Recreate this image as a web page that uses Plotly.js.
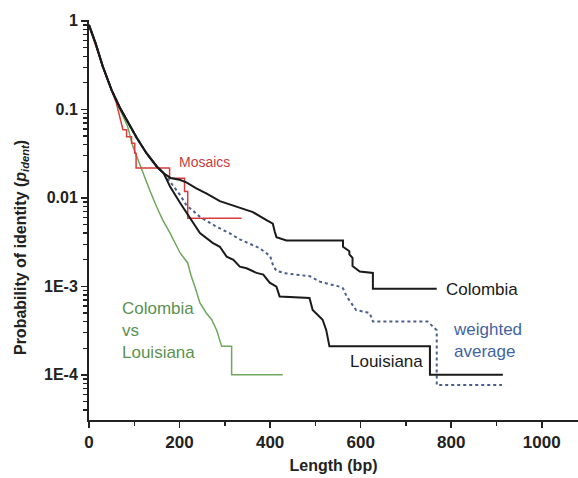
<!DOCTYPE html>
<html>
<head>
<meta charset="utf-8">
<script src="https://cdn.plot.ly/plotly-3.0.1.min.js"></script>
<style>html,body{margin:0;padding:0;background:#fff;}#chart{width:578px;height:478px;}</style>
</head>
<body>
<div id="chart"></div>
<script>
// Data (length in bp, probability of identity)
const colombiaX = [0, 15, 30, 50, 68, 85, 105, 127, 150, 165, 180, 200, 215, 237, 260, 289, 310, 333, 362, 392, 406, 410, 414, 436, 561, 561, 575, 575, 582, 582, 598, 627, 627, 768];
const colombiaY = [0.9, 0.55, 0.31, 0.165, 0.105, 0.072, 0.048, 0.032, 0.0225, 0.019, 0.0168, 0.016, 0.015, 0.0128, 0.0112, 0.0092, 0.0085, 0.0078, 0.0069, 0.0056, 0.0051, 0.0042, 0.0036, 0.0033, 0.0033, 0.0028, 0.0025, 0.0023, 0.0021, 0.0017, 0.00147, 0.00142, 0.00094, 0.00094];

const louisianaX = [0, 15, 30, 50, 68, 85, 105, 127, 150, 165, 179, 201, 215, 237, 245, 273, 289, 304, 319, 333, 348, 370, 385, 399, 414, 421, 487, 494, 516, 524, 531, 753, 753, 914];
const louisianaY = [0.9, 0.55, 0.31, 0.165, 0.105, 0.072, 0.048, 0.032, 0.0225, 0.019, 0.0134, 0.0088, 0.0068, 0.0047, 0.0040, 0.0031, 0.0028, 0.00217, 0.0020, 0.00167, 0.0016, 0.00142, 0.00136, 0.0011, 0.00099, 0.00077, 0.00074, 0.00054, 0.00042, 0.00032, 0.00021, 0.00021, 0.0001, 0.0001];

const weightedX = [0, 15, 30, 50, 68, 85, 105, 127, 150, 165, 179, 201, 215, 245, 282, 310, 333, 377, 400, 407, 414, 436, 488, 510, 554, 561, 569, 590, 620, 627, 748, 768, 768, 912];
const weightedY = [0.9, 0.55, 0.31, 0.165, 0.105, 0.072, 0.048, 0.032, 0.0225, 0.019, 0.0152, 0.0108, 0.0083, 0.0061, 0.0047, 0.0040, 0.0034, 0.0027, 0.0022, 0.0017, 0.0015, 0.0014, 0.0013, 0.00113, 0.00099, 0.00095, 0.00077, 0.00054, 0.0005, 0.0004, 0.0004, 0.00032, 0.000077, 0.000077];

const mosaicsX = [0, 20, 40, 60, 75, 83, 83, 94, 94, 101, 101, 104, 104, 178, 178, 211, 211, 218, 218, 337];
const mosaicsY = [0.88, 0.45, 0.22, 0.12, 0.059, 0.059, 0.049, 0.049, 0.0415, 0.0415, 0.032, 0.032, 0.0217, 0.0217, 0.0167, 0.0167, 0.0118, 0.0118, 0.0059, 0.0059];

const cvlX = [0, 15, 30, 50, 68, 85, 97, 119, 134, 149, 163, 179, 201, 218, 226, 234, 245, 259, 271, 282, 293, 315, 315, 428];
const cvlY = [0.9, 0.55, 0.31, 0.165, 0.1, 0.065, 0.038, 0.019, 0.0123, 0.008, 0.0056, 0.004, 0.0024, 0.00184, 0.00129, 0.00099, 0.00065, 0.0005, 0.00042, 0.00032, 0.00021, 0.00021, 0.0001, 0.0001];

const yTickVals = [1, 0.1, 0.01, 0.001, 0.0001];
const yTickText = ["1", "0.1", "0.01", "1E-3", "1E-4"];

const FONT = "Liberation Sans, Arial, sans-serif";
const minorY = [];
for (let e = -5; e <= -1; e++) {
  for (let m = 2; m <= 9; m++) {
    const v = m * Math.pow(10, e);
    if (v > 3.05e-5 && v < 1) minorY.push(v);
  }
}

const traces = [
  {x: weightedX, y: weightedY, mode: 'lines', line: {color: '#4a5f8e', width: 2, dash: 'dot'}, name: 'weighted average'},
  {x: cvlX, y: cvlY, mode: 'lines', line: {color: '#6fa85c', width: 1.5}, name: 'Colombia vs Louisiana'},
  {x: mosaicsX, y: mosaicsY, mode: 'lines', line: {color: '#d63c3a', width: 1.5}, name: 'Mosaics'},
  {x: louisianaX, y: louisianaY, mode: 'lines', line: {color: '#1a1a1a', width: 2}, name: 'Louisiana'},
  {x: colombiaX, y: colombiaY, mode: 'lines', line: {color: '#1a1a1a', width: 2}, name: 'Colombia'}
];

const layout = {
  width: 578, height: 478,
  margin: {l: 89, r: 0, t: 20, b: 58},
  paper_bgcolor: '#fff', plot_bgcolor: '#fff',
  showlegend: false,
  font: {family: FONT, color: '#222'},
  xaxis: {
    range: [0, 1080], dtick: 200, tick0: 0,
    showgrid: false, zeroline: false,
    showline: true, linecolor: '#222', linewidth: 2,
    ticks: 'outside', ticklen: 6, tickwidth: 1.5, tickcolor: '#222',
    minor: {dtick: 100, tick0: 0, ticks: 'outside', ticklen: 4, tickwidth: 1.5, tickcolor: '#222', showgrid: false},
    tickfont: {family: FONT, size: 17, weight: 'bold', color: '#222'},
    title: {text: '<b>Length (bp)</b>', font: {family: FONT, size: 16, color: '#222'}, standoff: 8}
  },
  yaxis: {
    type: 'log', range: [-4.51, 0.01],
    tickmode: 'array', tickvals: yTickVals, ticktext: yTickText,
    showgrid: false, zeroline: false,
    showline: true, linecolor: '#222', linewidth: 2,
    ticks: 'outside', ticklen: 6, tickwidth: 1.5, tickcolor: '#222',
    minor: {tickmode: 'array', tickvals: minorY, ticks: 'outside', ticklen: 4, tickwidth: 1.2, tickcolor: '#222', showgrid: false},
    tickfont: {family: FONT, size: 16, weight: 'bold', color: '#222'}
  },
  annotations: [
    {xref: 'paper', yref: 'paper', x: -0.139, y: 0.43, xanchor: 'center', yanchor: 'middle', textangle: -90, showarrow: false,
     text: '<b>Probability of identity (<i>p</i><sub><i>ident</i></sub>)</b>', font: {family: FONT, size: 16, color: '#222'}},
    {xref: 'paper', yref: 'paper', x: 0.179, y: 0.645, xanchor: 'left', yanchor: 'middle', showarrow: false,
     text: 'Mosaics', font: {family: FONT, size: 14, color: '#c8403e'}},
    {xref: 'paper', yref: 'paper', x: 0.726, y: 0.3275, xanchor: 'left', yanchor: 'middle', showarrow: false,
     text: 'Colombia', font: {family: FONT, size: 17, color: '#1a1a1a'}},
    {xref: 'paper', yref: 'paper', x: 0.740, y: 0.2, xanchor: 'left', yanchor: 'middle', align: 'left', showarrow: false,
     text: 'weighted<br>average', font: {family: FONT, size: 17, color: '#3f64a0'}},
    {xref: 'paper', yref: 'paper', x: 0.5297, y: 0.1475, xanchor: 'left', yanchor: 'middle', showarrow: false,
     text: 'Louisiana', font: {family: FONT, size: 17, color: '#1a1a1a'}},
    {xref: 'paper', yref: 'paper', x: 0.0634, y: 0.225, xanchor: 'left', yanchor: 'middle', align: 'left', showarrow: false,
     text: 'Colombia<br>vs<br>Louisiana', font: {family: FONT, size: 17, color: '#5b9152'}}
  ]
};

Plotly.newPlot('chart', traces, layout, {displayModeBar: false, staticPlot: true});
</script>
</body>
</html>
